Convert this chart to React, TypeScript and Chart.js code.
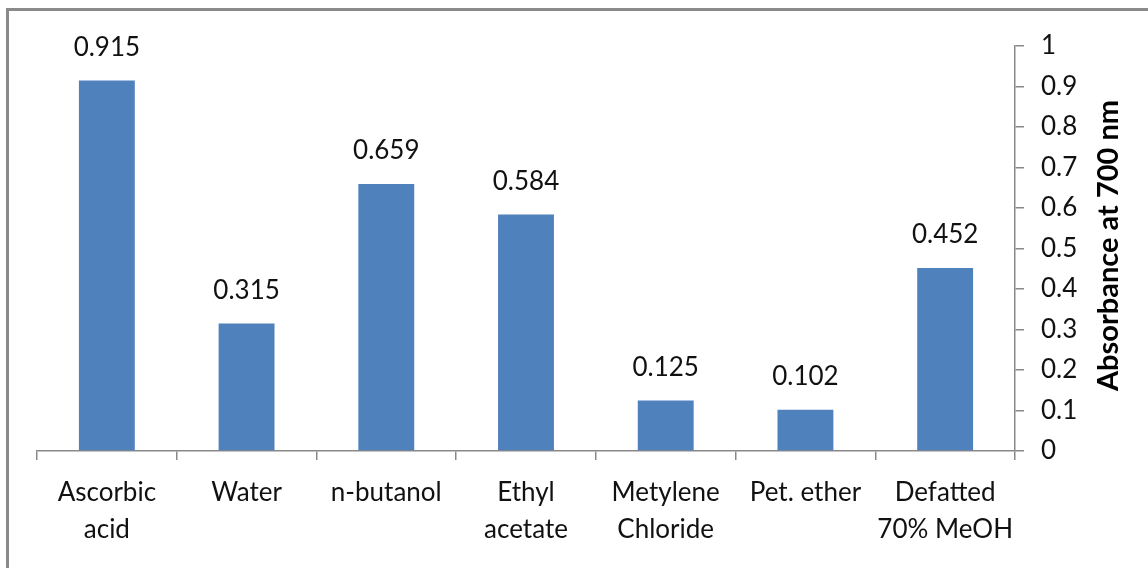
import React, { useEffect, useRef } from "react";
import { Chart, registerables } from "chart.js";

Chart.register(...registerables);

const categories: string[][] = [
  ["Ascorbic", "acid"],
  ["Water"],
  ["n-butanol"],
  ["Ethyl", "acetate"],
  ["Metylene", "Chloride"],
  ["Pet. ether"],
  ["Defatted", "70% MeOH"],
];
const values: number[] = [0.915, 0.315, 0.659, 0.584, 0.125, 0.102, 0.452];
const valueLabels: string[] = ["0.915", "0.315", "0.659", "0.584", "0.125", "0.102", "0.452"];
const yTitle = "Absorbance at 700 nm";

const FONT = "Lato, 'Liberation Sans', sans-serif";
const AXIS_COLOR = "#898989";
const BAR_COLOR = "#4F81BD";

export default function App() {
  const ref = useRef<HTMLCanvasElement | null>(null);

  useEffect(() => {
    document.body.style.margin = "0";
    const canvas = ref.current!;
    const framePlugin = {
      id: "frame",
      beforeDraw(chart: any) {
        const ctx = chart.ctx;
        ctx.save();
        ctx.fillStyle = "#ffffff";
        ctx.fillRect(0, 0, chart.width, chart.height);
        ctx.strokeStyle = "#8a8a8a";
        ctx.lineWidth = 3;
        ctx.beginPath();
        ctx.moveTo(7.5, chart.height);
        ctx.lineTo(7.5, 9.5);
        ctx.lineTo(chart.width, 9.5);
        ctx.stroke();
        ctx.restore();
      },
      afterDraw(chart: any) {
        const ctx = chart.ctx;
        const meta = chart.getDatasetMeta(0);
        ctx.save();
        ctx.fillStyle = "#111";
        ctx.font = `26px ${FONT}`;
        ctx.textAlign = "center";
        ctx.textBaseline = "middle";
        meta.data.forEach((bar: any, i: number) => {
          ctx.fillText(valueLabels[i], bar.x, bar.y - 33);
        });
        const ca = chart.chartArea;
        ctx.translate(1109, (ca.top + ca.bottom) / 2 - 3);
        ctx.rotate(-Math.PI / 2);
        ctx.font = `bold 29px ${FONT}`;
        ctx.fillStyle = "#000";
        ctx.fillText(yTitle, 0, 0);
        ctx.restore();
      },
    };

    const chart = new Chart(canvas, {
      type: "bar",
      data: {
        labels: categories,
        datasets: [
          {
            data: values,
            backgroundColor: BAR_COLOR,
            borderWidth: 0,
            barPercentage: 0.4,
            categoryPercentage: 1,
          },
        ],
      },
      options: {
        responsive: false,
        animation: false,
        devicePixelRatio: 1,
        layout: { padding: { left: 37, top: 46, right: 0, bottom: 0 } },
        plugins: {
          legend: { display: false },
          tooltip: { enabled: false },
          title: { display: false },
        },
        scales: {
          x: {
            offset: true,
            grid: {
              offset: true,
              drawOnChartArea: false,
              drawTicks: true,
              tickLength: 9,
              color: AXIS_COLOR,
              lineWidth: 1.5,
            },
            border: { display: true, color: AXIS_COLOR, width: 1.5 },
            ticks: {
              color: "#111",
              font: { family: FONT, size: 26, lineHeight: 1.42 },
              padding: 14,
              maxRotation: 0,
              autoSkip: false,
            },
            afterFit(scale: any) {
              scale.height = 117;
            },
          },
          y: {
            position: "right",
            min: 0,
            max: 1,
            ticks: {
              stepSize: 0.1,
              color: "#111",
              font: { family: FONT, size: 26 },
              padding: 17,
              callback: (v: any) => String(Math.round(Number(v) * 10) / 10),
            },
            grid: {
              drawOnChartArea: false,
              drawTicks: true,
              tickLength: 9,
              color: AXIS_COLOR,
              lineWidth: 1.5,
            },
            border: { display: true, color: AXIS_COLOR, width: 1.5 },
            afterFit(scale: any) {
              scale.width = 133;
            },
          },
        },
      },
      plugins: [framePlugin],
    });
    return () => chart.destroy();
  }, []);

  return <canvas ref={ref} width={1148} height={568} style={{ display: "block" }} />;
}
